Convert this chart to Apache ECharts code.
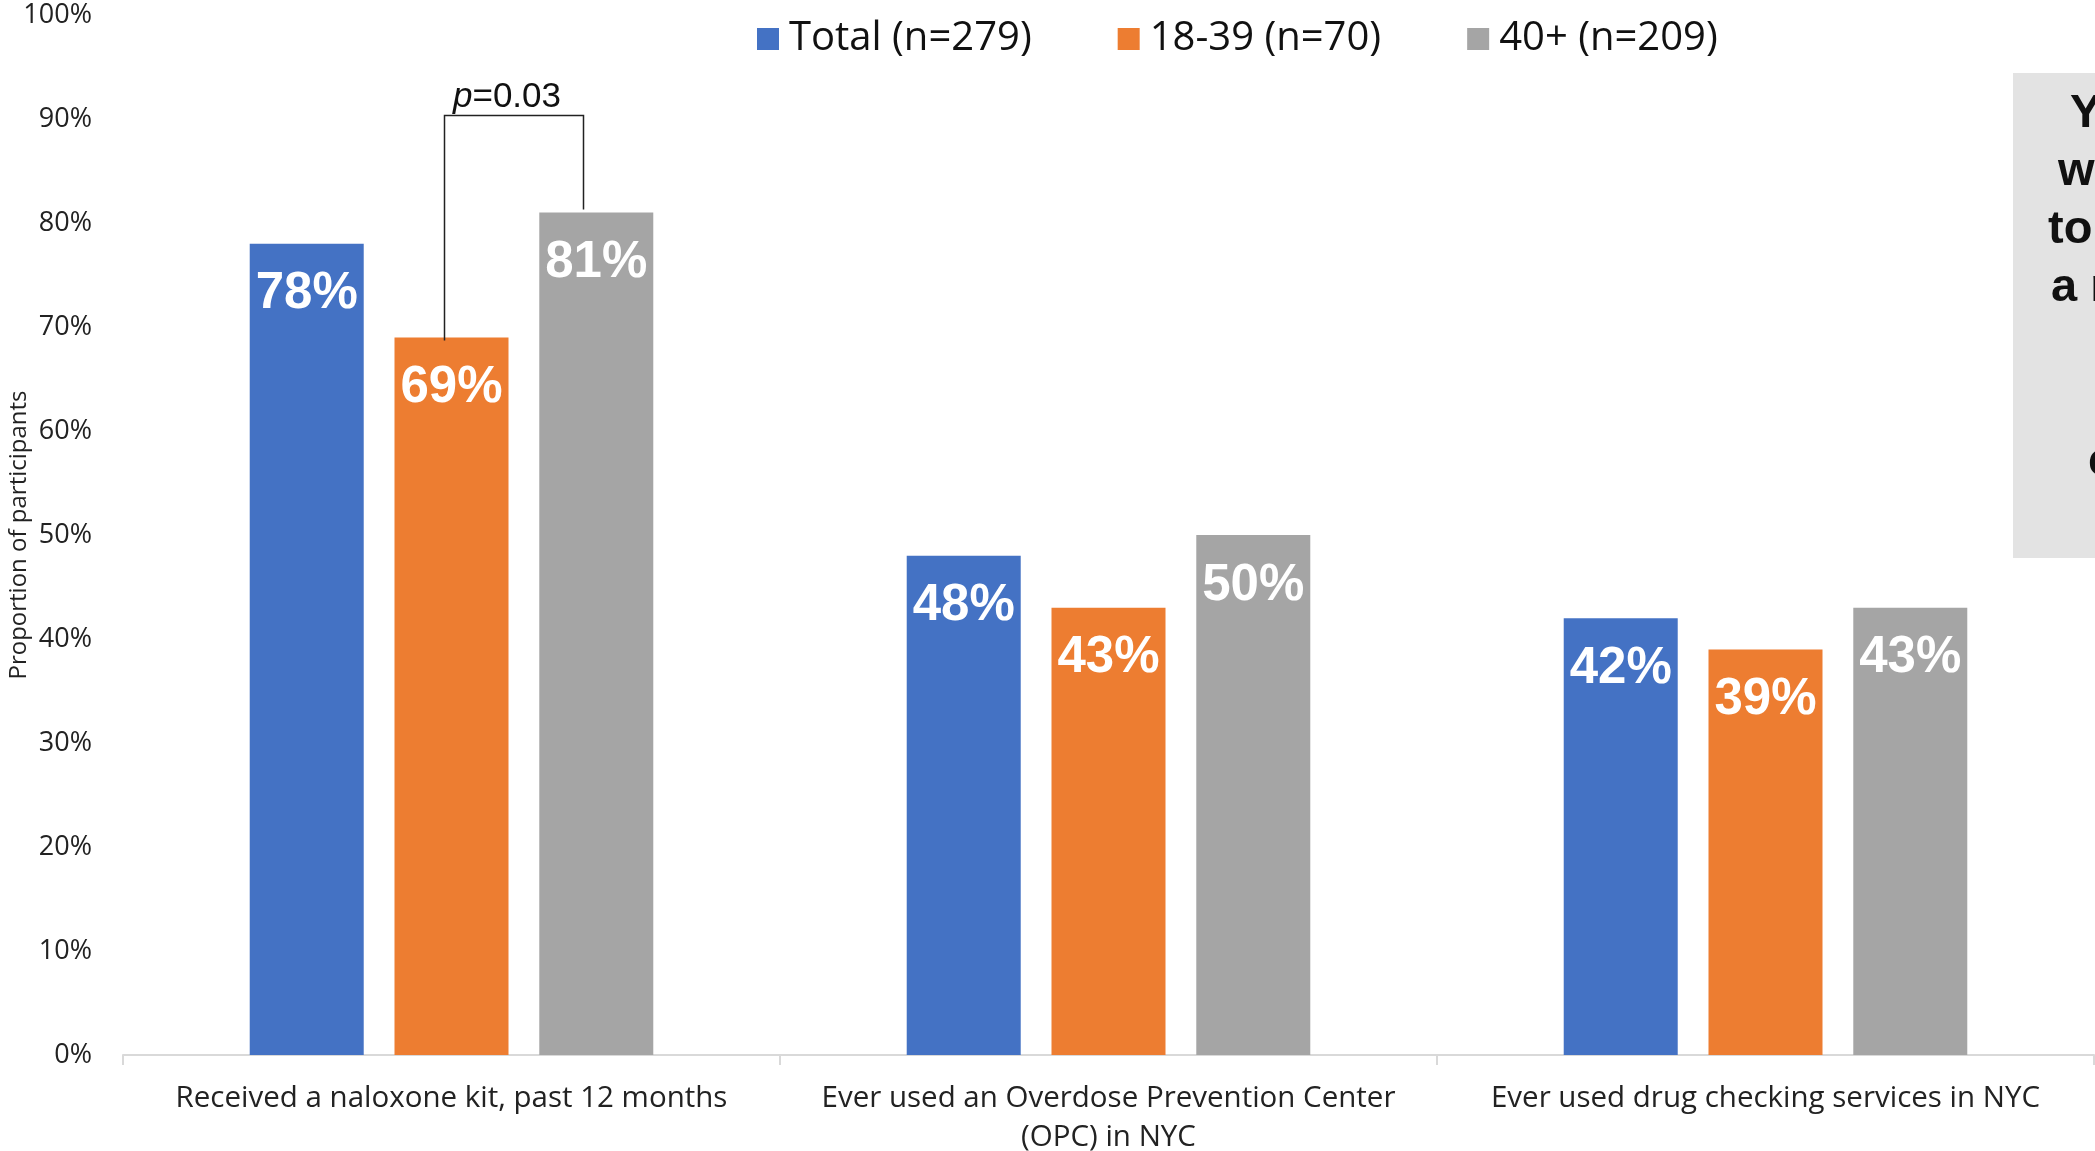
<!DOCTYPE html>
<html>
<head>
<meta charset="utf-8">
<script src="https://cdn.jsdelivr.net/npm/echarts@6/dist/echarts.min.js"></script>
<style>
html,body{margin:0;padding:0;background:#fff;}
#c{width:2095px;height:1151px;}
</style>
</head>
<body>
<div id="c"></div>
<script>
const categories = [
  "Received a naloxone kit, past 12 months",
  "Ever used an Overdose Prevention Center\n(OPC) in NYC",
  "Ever used drug checking services in NYC"
];
const seriesNames = ["Total (n=279)", "18-39 (n=70)", "40+ (n=209)"];
const totalValues = [0.78, 0.48, 0.42];
const youngValues = [0.69, 0.43, 0.39];
const olderValues = [0.81, 0.50, 0.43];
const yTicks = [0, 0.1, 0.2, 0.3, 0.4, 0.5, 0.6, 0.7, 0.8, 0.9, 1.0];
const pValueText = "0.03";
const calloutLines = ["Younger", "were less likely", "to have received", "a naloxone kit", "compared with"];

const colors = ["#4472C4", "#ED7D31", "#A5A5A5"];
const chart = echarts.init(document.getElementById('c'), null, {renderer: 'canvas'});

function mkSeries(name, data, color) {
  return {
    name: name, type: 'bar', data: data,
    barWidth: 114, barGap: '27%',
    itemStyle: {color: color},
    label: {
      show: true, position: 'insideTop', distance: 25,
      formatter: p => Math.round(p.value * 100) + '%',
      color: '#fff', fontSize: 51, fontWeight: 'bold', fontFamily: 'Liberation Sans'
    }
  };
}

chart.setOption({
  animation: false,
  grid: {left: 123, right: 1, top: 15, bottom: 96, containLabel: false, outerBoundsMode: 'none'},
  legend: {
    data: seriesNames, top: 19, left: 757, padding: 0,
    itemWidth: 22, itemHeight: 22, itemGap: 86, icon: 'rect',
    textStyle: {fontSize: 40, color: '#111', fontFamily: 'Open Sans', padding: [0, 0, 0, 5]}
  },
  xAxis: {
    type: 'category', data: categories,
    axisLine: {lineStyle: {color: '#d9d9d9', width: 2}},
    axisTick: {show: true, length: 10, lineStyle: {color: '#d9d9d9', width: 2}},
    axisLabel: {fontSize: 29.5, color: '#222', fontFamily: 'Open Sans', margin: 24, lineHeight: 39, interval: 0}
  },
  yAxis: {
    type: 'value', min: 0, max: 1, interval: 0.1,
    name: 'Proportion of participants', nameLocation: 'middle', nameGap: 92, nameMoveOverlap: false,
    nameTextStyle: {fontSize: 24, color: '#222', fontFamily: 'Open Sans'},
    axisLabel: {formatter: v => Math.round(v * 100) + '%', fontSize: 27, color: '#222', fontFamily: 'Open Sans', margin: 31},
    splitLine: {show: false}, axisLine: {show: false}, axisTick: {show: false}
  },
  series: [
    mkSeries(seriesNames[0], totalValues, colors[0]),
    mkSeries(seriesNames[1], youngValues, colors[1]),
    mkSeries(seriesNames[2], olderValues, colors[2])
  ]
});

function drawExtras() {
  const cx = chart.convertToPixel({xAxisIndex: 0}, 0);
  const yYoung = chart.convertToPixel({yAxisIndex: 0}, youngValues[0]);
  const yOld = chart.convertToPixel({yAxisIndex: 0}, olderValues[0]);
  const yTop = yOld - 97;
  const xl = cx - 7, xr = cx + 132;
  const lines = [
    {x: 2070, y: 114}, {x: 2058, y: 172}, {x: 2048, y: 230}, {x: 2051, y: 288}, {x: 2088, y: 462}
  ];
  const elements = [
    {type: 'polyline', shape: {points: [[xl, yYoung + 3], [xl, yTop], [xr, yTop], [xr, yOld - 3]]},
     style: {stroke: '#222', lineWidth: 1.5, fill: null}, z: 10},
    {type: 'text', x: (xl + xr) / 2 - 7, y: yTop - 18,
     style: {rich: {i: {fontStyle: 'italic', fontSize: 35, fontFamily: 'Liberation Sans', fill: '#111'},
                    n: {fontSize: 35, fontFamily: 'Liberation Sans', fill: '#111'}},
             text: '{i|p}{n|=' + pValueText + '}', align: 'center', verticalAlign: 'middle'}, z: 10},
    {type: 'rect', shape: {x: 2013, y: 73, width: 300, height: 485}, style: {fill: '#E3E3E3'}, z: 5}
  ];
  calloutLines.forEach((t, i) => {
    elements.push({type: 'text', x: lines[i].x, y: lines[i].y,
      style: {text: t, fontSize: 47, fontWeight: 'bold', fontFamily: 'Liberation Sans', fill: '#111',
              align: 'left', verticalAlign: 'middle'}, z: 6});
  });
  chart.setOption({graphic: {elements: elements}});
}
drawExtras();
</script>
</body>
</html>
